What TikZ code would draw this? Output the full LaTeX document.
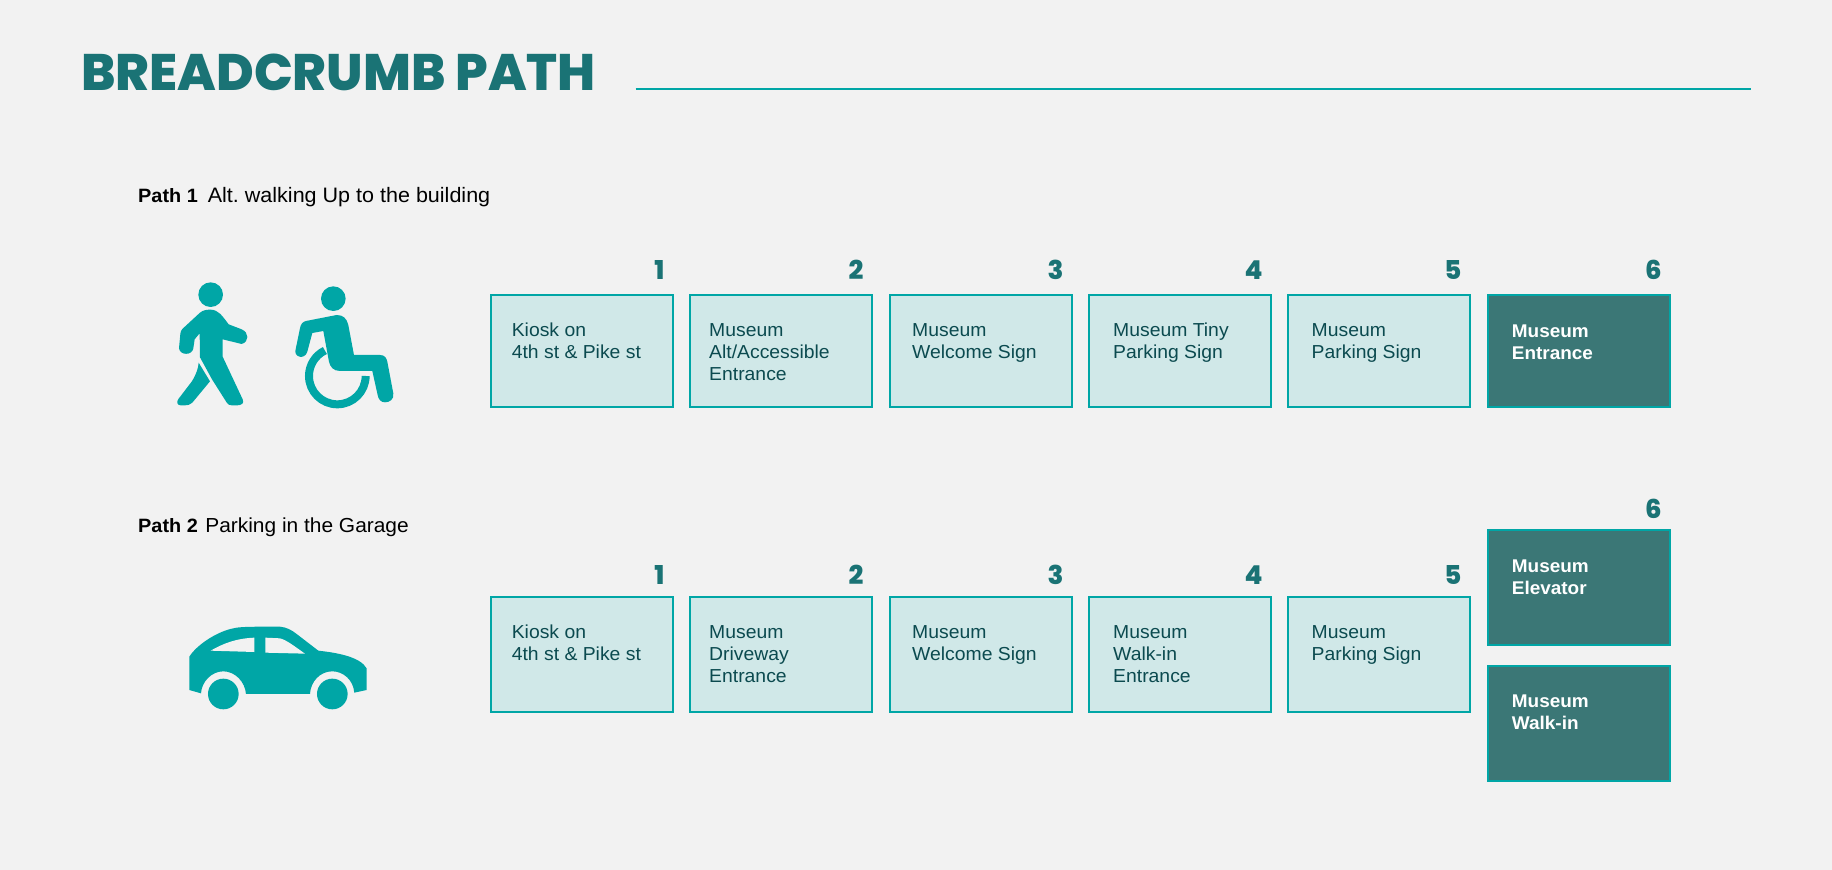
\documentclass[tikz,border=0pt]{standalone}
\usepackage{fontspec}
\setmainfont{Liberation Sans}[FakeStretch=1.03]
\newfontfamily\heavyfont{Poppins ExtraBold}
\frenchspacing
\definecolor{bgc}{HTML}{F2F2F2}
\definecolor{tealc}{HTML}{00A6A6}
\definecolor{titlec}{HTML}{1A7375}
\definecolor{lightc}{HTML}{D0E8E8}
\definecolor{darkc}{HTML}{3B7776}
\definecolor{inkc}{HTML}{0B4A4F}
\tikzset{
  lightcard/.style={draw=tealc,line width=2.2pt,fill=lightc,rectangle,anchor=north west,inner sep=0pt,minimum width=182pt,minimum height=#1},
  darkcard/.style={draw=tealc,line width=2.2pt,fill=darkc,rectangle,anchor=north west,inner sep=0pt,minimum width=182pt,minimum height=#1},
  lighttext/.style={anchor=north west,inner sep=0pt,align=left,text=inkc,font=\fontsize{18.8}{22}\selectfont},
  darktext/.style={anchor=north west,inner sep=0pt,yshift=-1.5pt,xshift=0.7pt,align=left,text=white,font=\fontsize{18.4}{22}\selectfont\bfseries},
  numlabel/.style={anchor=base east,inner sep=0pt,text=titlec,font=\heavyfont\fontsize{26}{26}\selectfont},
  pathlabel/.style={anchor=base west,inner sep=0pt,text=black,font=\fontsize{20.9}{22}\selectfont},
  icon/.style={fill=tealc,draw=none},
  iconhole/.style={fill=bgc,draw=none}
}
\newcommand{\pathbold}[1]{{\fontsize{19.3}{22}\selectfont\bfseries #1}}
\newcommand{\cardrow}[9]{% name x y height kind text number textdx numdy
  \node[#5card=#4pt] (#1) at (#2pt,-#3pt) {};
  \node[#5text] (#1t) at ([shift={(#8pt,-29pt)}]#1.north west) {#6};
  \node[numlabel] (#1n) at ([shift={(-9.5pt,#9pt)}]#1.north east) {#7};
}
\begin{document}
\begin{tikzpicture}[x=1pt,y=1pt]
\useasboundingbox (0,0) rectangle (1832,-870);
\fill[bgc] (0,0) rectangle (1832,-870);

\node[anchor=base west,inner sep=0pt,text=titlec,font=\heavyfont\fontsize{51.3}{52}\selectfont] (title) at (81,-90) {BREADCRUMB PATH};
\coordinate (ruleA) at (635.5,-88.8);
\coordinate (ruleB) at (1750.5,-88.8);
\draw[tealc,line width=2pt] (ruleA) -- (ruleB);

\node[pathlabel] (p1) at (138,-202) {\pathbold{Path 1}\hspace{10pt}Alt. walking Up to the building};
\node[pathlabel,font=\fontsize{20.3}{22}\selectfont] (p2) at (138,-532) {\pathbold{Path 2}\hspace{7.5pt}Parking in the Garage};

\cardrow{a}{490}{294}{112}{light}{Kiosk on\\4th st \& Pike st}{1}{21.6}{15}
\cardrow{b}{689}{294}{112}{light}{Museum\\Alt/Accessible\\Entrance}{2}{20}{15}
\cardrow{c}{889}{294}{112}{light}{Museum\\Welcome Sign}{3}{23}{15}
\cardrow{d}{1088}{294}{112}{light}{Museum Tiny\\Parking Sign}{4}{25}{15}
\cardrow{e}{1287}{294}{112}{light}{Museum\\Parking Sign}{5}{24.5}{15}
\cardrow{f}{1487}{294}{112}{dark}{Museum\\Entrance}{6}{24}{15}

\cardrow{g}{490}{596}{115}{light}{Kiosk on\\4th st \& Pike st}{1}{21.6}{12}
\cardrow{h}{689}{596}{115}{light}{Museum\\Driveway\\Entrance}{2}{20}{12}
\cardrow{i}{889}{596}{115}{light}{Museum\\Welcome Sign}{3}{23}{12}
\cardrow{j}{1088}{596}{115}{light}{Museum\\Walk-in\\Entrance}{4}{25}{12}
\cardrow{k}{1287}{596}{115}{light}{Museum\\Parking Sign}{5}{24.5}{12}
\cardrow{l}{1487}{529}{115}{dark}{Museum\\Elevator}{6}{24}{11}
\node[darkcard=115pt] (m) at (1487,-664.5) {};
\node[darktext] (mt) at ([shift={(24pt,-29pt)}]m.north west) {Museum\\Walk-in};

% walking figure
\begin{scope}[shift={(150,-260)},x=0.3333pt,y=-0.3333pt]
\fill[icon] (182,104) circle[radius=37];
\fill[icon] (182,149) .. controls (205,150) and (215,165) .. (236,193) -- (275,208)
  .. controls (298,218) and (298,245) .. (275,252) -- (218,238) -- (218,290) -- (278,418)
  .. controls (284,430) and (274,436) .. (262,436) -- (245,436) .. controls (238,436) and (234,433) .. (231,429)
  -- (186,358) -- (150,292) -- (149,220) -- (134,238) -- (130,265)
  .. controls (127,287) and (90,287) .. (87,265) -- (91,222) .. controls (91,215) and (94,210) .. (98,206) -- (150,158)
  .. controls (160,150) and (170,149) .. (182,149) -- cycle;
\fill[icon] (146,308) -- (180,364) -- (127,428) .. controls (120,435) and (112,436) .. (105,436) -- (92,436)
  .. controls (82,436) and (78,426) .. (86,416) -- (125,365) .. controls (138,345) and (145,325) .. (146,308) -- cycle;
% wheelchair figure
\fill[icon] (550,116) circle[radius=37];
\fill[icon] (468,183) -- (560,165) .. controls (580,165) and (590,175) .. (595,195) -- (612,285)
  -- (690,285) .. controls (705,285) and (710,295) .. (712,305) -- (730,400)
  .. controls (733,420) and (717,427) .. (705,427) .. controls (692,427) and (685,417) .. (683,405)
  -- (667,333) -- (570,333) .. controls (550,333) and (540,320) .. (537,305) -- (520,213) -- (487,219)
  -- (472,275) .. controls (468,290) and (455,292) .. (448,290) .. controls (438,287) and (434,278) .. (437,268)
  -- (450,205) .. controls (452,193) and (458,185) .. (468,183) -- cycle;
\draw[tealc,line width=8pt] (647,348) arc[start angle=0,end angle=244,radius=85];
\end{scope}

% car
\begin{scope}[shift={(170,-610)},x=0.3333pt,y=-0.3333pt]
\fill[icon] (58,240) -- (58,140) .. controls (80,105) and (140,65) .. (190,55)
  .. controls (210,50) and (240,50) .. (330,50) .. controls (350,52) and (365,60) .. (380,72)
  -- (445,122) .. controls (500,128) and (570,140) .. (590,175) -- (590,240) -- (553,248)
  .. controls (550,210) and (520,184) .. (487,184) .. controls (450,184) and (422,215) .. (420,252)
  -- (228,252) .. controls (225,215) and (195,184) .. (160,184) .. controls (125,184) and (95,215) .. (93,250) -- cycle;
\fill[icon] (160,252) circle[radius=46];
\fill[icon] (487,252) circle[radius=46];
\fill[iconhole] (122,122) .. controls (160,100) and (200,85) .. (253,83) -- (253,126) -- cycle;
\fill[iconhole] (286,83) -- (330,85) .. controls (350,90) and (375,110) .. (405,131) -- (286,128) -- cycle;
\end{scope}
\end{tikzpicture}
\end{document}
